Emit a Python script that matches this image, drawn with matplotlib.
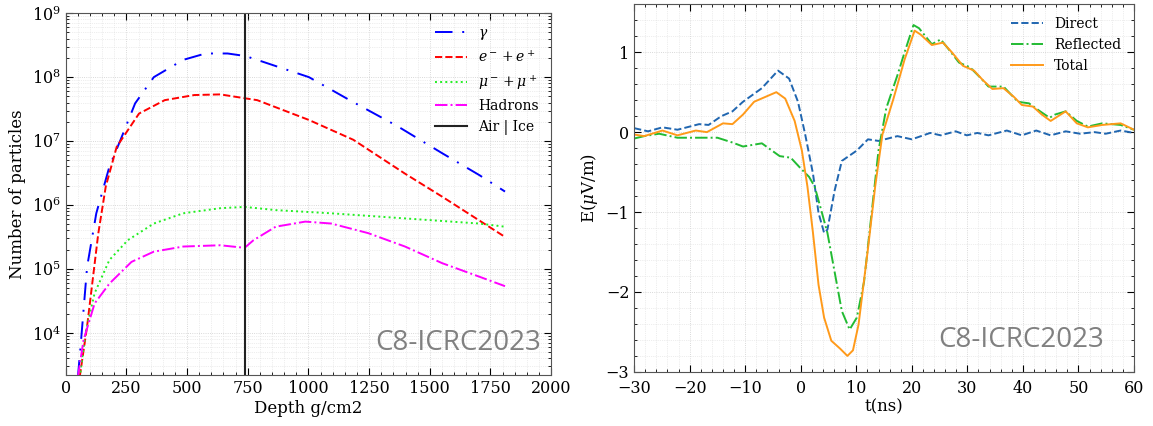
import matplotlib
matplotlib.use("Agg")
import matplotlib.pyplot as plt
from matplotlib.ticker import MultipleLocator, LogLocator, NullFormatter

# -- shower profile (depth in g/cm2, log10 of number of particles)
gamma_x = [50, 61, 88, 126, 180, 226, 286, 363, 484, 576, 667, 740, 789, 1002, 1170, 1368, 1551, 1703, 1810]
gamma_y = [3.3, 3.78, 5.03, 5.87, 6.6, 7.02, 7.59, 8.0, 8.27, 8.37, 8.37, 8.33, 8.27, 8.0, 7.64, 7.23, 6.81, 6.47, 6.21]
ee_x = [58, 88, 134, 165, 210, 302, 408, 530, 637, 737, 789, 1002, 1185, 1398, 1551, 1703, 1810]
ee_y = [3.32, 4.1, 5.55, 6.29, 6.91, 7.43, 7.64, 7.72, 7.73, 7.67, 7.64, 7.33, 7.02, 6.49, 6.13, 5.76, 5.5]
mu_x = [58, 81, 119, 180, 256, 363, 484, 637, 737, 865, 1094, 1398, 1703, 1810]
mu_y = [3.3, 3.99, 4.62, 5.14, 5.45, 5.71, 5.87, 5.95, 5.97, 5.92, 5.87, 5.79, 5.71, 5.66]
had_x = [50, 73, 119, 180, 271, 363, 484, 637, 737, 774, 865, 987, 1094, 1246, 1398, 1551, 1703, 1810]
had_y = [3.3, 3.88, 4.46, 4.77, 5.11, 5.27, 5.35, 5.37, 5.33, 5.45, 5.66, 5.74, 5.71, 5.56, 5.35, 5.09, 4.88, 4.73]
air_ice = 740

# -- radio pulse (t in ns, E in muV/m)
dir_t = [-30, -27.5, -24.9, -22.2, -18.3, -16.6, -14.3, -12.3, -10.4, -7, -4.1, -2.1, -0.5, 0.8, 2.2, 3.2, 4.2,
         4.8, 6.1, 7.4, 10.1, 12.1, 14, 17.4, 20, 23.3, 25.2, 27.9, 29.9, 31.8, 33.8, 37.1, 39.8, 42.4, 45,
         47.7, 50.3, 52.9, 54.9, 57.6, 60]
dir_e = [0.05, 0.01, 0.06, 0.03, 0.10, 0.09, 0.2, 0.26, 0.38, 0.55, 0.77, 0.67, 0.38, -0.03, -0.52, -1.01, -1.26,
         -1.22, -0.73, -0.36, -0.23, -0.09, -0.11, -0.05, -0.09, -0.01, -0.04, 0.01, -0.04, -0.01, -0.04, 0.02,
         -0.04, 0.02, -0.04, 0.01, -0.02, 0.0, -0.02, 0.02, -0.01]
ref_t = [-30, -28.2, -25.5, -22.2, -18.3, -15, -12.3, -10.4, -7, -3.8, -1.8, -0.2, 1.5, 2.5, 3.5, 4.8, 6.1, 7.4,
         8.8, 10.1, 11.4, 12.7, 14, 15.4, 17.4, 18.7, 20.3, 21.3, 23.6, 25.2, 26.6, 28.5, 30.5, 32.5, 33.8,
         36.5, 39.1, 41.1, 43.1, 44.8, 45.8, 47.7, 49.7, 51.7, 54.3, 57.6, 60]
ref_e = [-0.08, -0.05, -0.02, -0.07, -0.07, -0.07, -0.13, -0.18, -0.14, -0.3, -0.32, -0.44, -0.56, -0.68, -0.93,
         -1.26, -1.75, -2.24, -2.47, -2.32, -1.87, -1.05, -0.23, 0.3, 0.71, 1.0, 1.34, 1.30, 1.10, 1.16, 1.04,
         0.87, 0.81, 0.67, 0.57, 0.57, 0.38, 0.36, 0.26, 0.18, 0.22, 0.26, 0.14, 0.07, 0.11, 0.09, 0.03]
tot_t = [-30, -28.2, -24.9, -22.2, -18.9, -16.9, -14, -12.3, -10.4, -8.4, -4.4, -2.8, -1.1, 0.2, 1.2, 2.2, 3.2,
         4.2, 5.5, 7.1, 8.4, 9.4, 10.4, 12.1, 13.4, 14.7, 16.7, 18.7, 20.5, 21.6, 23.6, 25.6, 27.2, 29.2, 31.2,
         32.8, 34.5, 36.5, 38.4, 39.8, 41.8, 43.4, 45, 47.7, 49.7, 51.7, 54.3, 57.6, 60]
tot_e = [-0.03, -0.05, 0.02, -0.04, 0.02, 0.0, 0.11, 0.1, 0.22, 0.38, 0.5, 0.42, 0.14, -0.23, -0.68, -1.26, -1.91,
         -2.32, -2.61, -2.71, -2.8, -2.73, -2.41, -1.46, -0.68, -0.03, 0.42, 0.91, 1.27, 1.22, 1.09, 1.12, 1.0,
         0.83, 0.77, 0.65, 0.54, 0.55, 0.44, 0.34, 0.32, 0.22, 0.14, 0.26, 0.11, 0.06, 0.09, 0.11, 0.03]

plt.rcParams['font.family'] = 'DejaVu Serif'
plt.rcParams['mathtext.fontset'] = 'dejavuserif'
plt.rcParams['xtick.direction'] = 'in'
plt.rcParams['ytick.direction'] = 'in'
plt.rcParams['xtick.top'] = True
plt.rcParams['ytick.right'] = True

fig = plt.figure(figsize=(11.53, 4.26), dpi=100)
ax1 = fig.add_axes([0.057, 0.12, 0.421, 0.849])
ax2 = fig.add_axes([0.55, 0.127, 0.4335, 0.863])

# -- left panel
ax1.semilogy(gamma_x, [10 ** v for v in gamma_y], color='blue', lw=1.4, dashes=(9, 5, 1, 5), label=r'$\gamma$')
ax1.semilogy(ee_x, [10 ** v for v in ee_y], color='red', lw=1.4, ls='--', label=r'$e^-+e^+$')
ax1.semilogy(mu_x, [10 ** v for v in mu_y], color='#22ee22', lw=1.4, ls=':', label=r'$\mu^-+\mu^+$')
ax1.semilogy(had_x, [10 ** v for v in had_y], color='magenta', lw=1.4, ls='-.', label='Hadrons')
ax1.axvline(air_ice, color='#222222', lw=1.5, label='Air | Ice')
ax1.set_xlim(0, 2000)
ax1.set_ylim(2.2e3, 1e9)
ax1.xaxis.set_major_locator(MultipleLocator(250))
ax1.xaxis.set_minor_locator(MultipleLocator(50))
ax1.yaxis.set_major_locator(LogLocator(base=10, numticks=12))
ax1.yaxis.set_minor_locator(LogLocator(base=10, subs=range(2, 10), numticks=12))
ax1.yaxis.set_minor_formatter(NullFormatter())
ax1.set_xlabel('Depth g/cm2', fontsize=12, labelpad=2)
ax1.set_ylabel('Number of particles', fontsize=12)
ax1.legend(loc='upper right', frameon=False, fontsize=10, handlelength=2.3)
ax1.text(0.98, 0.05, 'C8-ICRC2023', transform=ax1.transAxes, ha='right', va='bottom',
         fontsize=20, color='gray', family='Open Sans')

# -- right panel
ax2.plot(dir_t, dir_e, color='#2066b0', lw=1.4, ls='--', label='Direct')
ax2.plot(ref_t, ref_e, color='#22bb33', lw=1.4, ls='-.', label='Reflected')
ax2.plot(tot_t, tot_e, color='#ff9a1a', lw=1.4, label='Total')
ax2.set_xlim(-30, 60)
ax2.set_ylim(-3, 1.6)
ax2.xaxis.set_major_locator(MultipleLocator(10))
ax2.xaxis.set_minor_locator(MultipleLocator(2))
ax2.yaxis.set_major_locator(MultipleLocator(1))
ax2.yaxis.set_minor_locator(MultipleLocator(0.2))
ax2.set_xlabel('t(ns)', fontsize=12, labelpad=1)
ax2.set_ylabel(r'E($\mu$V/m)', fontsize=12)
ax2.legend(loc='upper right', frameon=False, fontsize=10, handlelength=2.3)
ax2.text(0.94, 0.05, 'C8-ICRC2023', transform=ax2.transAxes, ha='right', va='bottom',
         fontsize=20, color='gray', family='Open Sans')

for ax in (ax1, ax2):
    ax.grid(which='major', color='#cccccc', lw=0.6, ls=':')
    ax.grid(which='minor', color='#dddddd', lw=0.5, ls=':')
    ax.tick_params(which='major', labelsize=11.5, length=5, width=0.8)
    ax.tick_params(which='minor', length=2.5, width=0.6)
    for s in ax.spines.values():
        s.set_color('#555555')
ax2.tick_params(axis='x', which='major', pad=5.5)

plt.savefig('out.png', dpi=100)
